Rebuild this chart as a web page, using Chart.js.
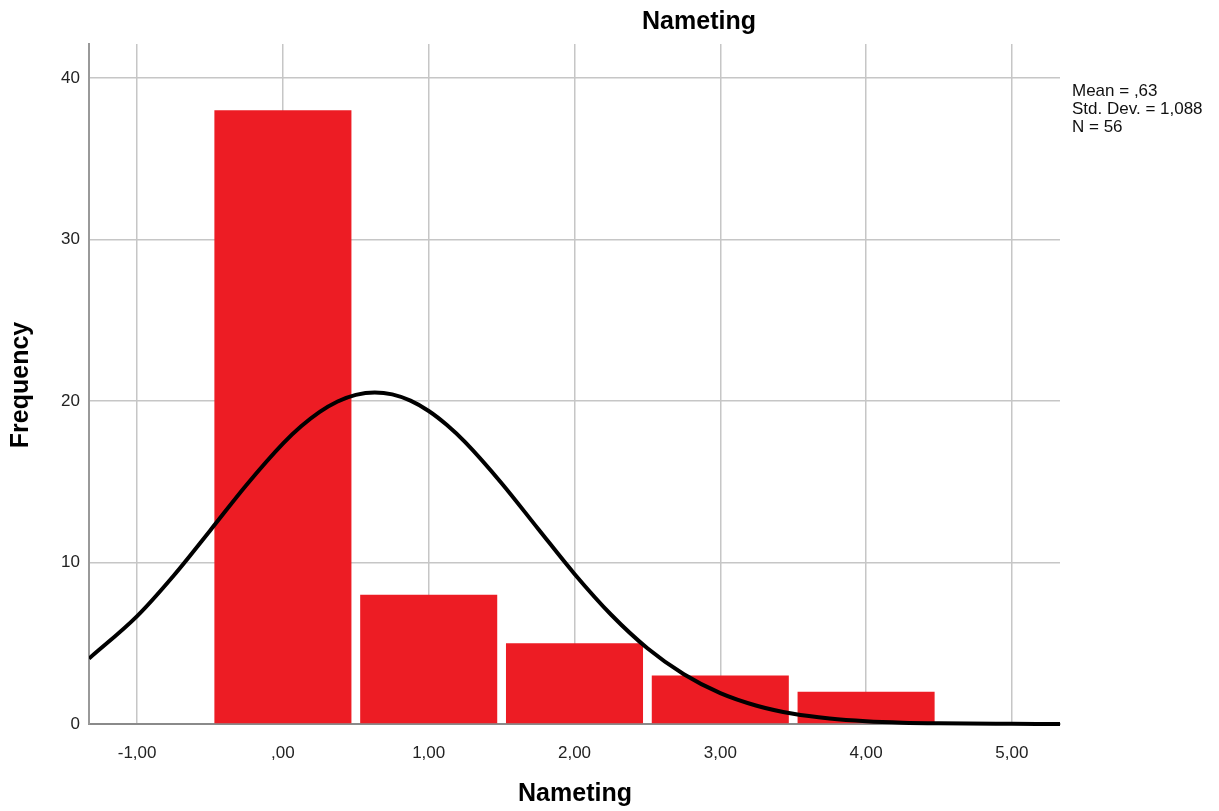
<!DOCTYPE html>
<html><head><meta charset="utf-8">
<script src="https://cdn.jsdelivr.net/npm/chart.js@4/dist/chart.umd.min.js"></script>
<style>html,body{margin:0;padding:0;background:#fff}#wrap{width:1219px;height:811px}</style>
</head><body><div id="wrap"><canvas id="c" width="1219" height="811"></canvas></div>
<script>
const binCenters = [0, 1, 2, 3, 4];
const frequencies = [38, 8, 5, 3, 2];
const curveX = [-1.33, -1, -0.75, -0.5, -0.25, 0, 0.125, 0.25, 0.375, 0.5, 0.63, 0.75, 0.875, 1, 1.125, 1.25, 1.5, 1.75, 2, 2.25, 2.5, 2.75, 3, 3.25, 3.5, 3.75, 4, 4.25, 4.5, 5, 5.33];
const curveY = [4.05, 6.68, 9.18, 11.97, 14.80, 17.36, 18.43, 19.31, 19.97, 20.38, 20.53, 20.41, 20.02, 19.38, 18.51, 17.45, 14.91, 12.09, 9.29, 6.78, 4.69, 3.08, 1.91, 1.13, 0.63, 0.34, 0.17, 0.08, 0.04, 0.01, 0.0];
const xTicks = [-1, 0, 1, 2, 3, 4, 5];
const yTicks = [0, 10, 20, 30, 40];
const chartTitle = 'Nameting';
const xTitle = 'Nameting';
const yTitle = 'Frequency';
const statsLines = ['Mean = ,63', 'Std. Dev. = 1,088', 'N = 56'];

const FONT = "'Liberation Sans', Arial, sans-serif";

const textPlugin = {
  id: 'texts',
  afterDraw(chart) {
    const ctx = chart.ctx;
    ctx.save();
    ctx.fillStyle = '#000';
    ctx.textAlign = 'center';
    ctx.textBaseline = 'middle';
    ctx.font = 'bold 25px ' + FONT;
    ctx.fillText(chartTitle, 699, 22);
    ctx.fillText(xTitle, 575, 794);
    ctx.save();
    ctx.translate(21, 385);
    ctx.rotate(-Math.PI / 2);
    ctx.fillText(yTitle, 0, 0);
    ctx.restore();
    ctx.font = '17px ' + FONT;
    ctx.textAlign = 'left';
    ctx.fillStyle = '#111';
    statsLines.forEach((t, i) => ctx.fillText(t, 1072, 91 + i * 18));
    ctx.restore();
  }
};

new Chart(document.getElementById('c'), {
  type: 'bar',
  data: {
    datasets: [
      {
        type: 'line',
        data: curveX.map((x, i) => ({ x: x, y: curveY[i] })),
        borderColor: '#000',
        borderWidth: 4,
        pointRadius: 0,
        cubicInterpolationMode: 'monotone',
        fill: false,
        order: 0,
        clip: { left: 0, right: 0, top: 0, bottom: 5 }
      },
      {
        type: 'bar',
        data: binCenters.map((x, i) => ({ x: x, y: frequencies[i] })),
        backgroundColor: '#ed1c24',
        borderWidth: 0,
        barPercentage: 0.94,
        categoryPercentage: 1,
        order: 1
      }
    ]
  },
  options: {
    responsive: false,
    animation: false,
    devicePixelRatio: 1,
    layout: { padding: { left: 0, top: 44, right: 159, bottom: 0 } },
    plugins: { legend: { display: false }, tooltip: { enabled: false }, title: { display: false } },
    scales: {
      x: {
        type: 'linear',
        min: -1.33,
        max: 5.33,
        offset: false,
        afterFit(s) { s.height = 87; },
        afterBuildTicks(s) { s.ticks = xTicks.map(v => ({ value: v })); },
        grid: { color: '#c6c6c6', lineWidth: 1.5, drawTicks: false, offset: false },
        border: { color: '#8a8a8a', width: 2 },
        ticks: {
          padding: 19,
          color: '#222',
          font: { family: FONT, size: 17 },
          maxRotation: 0,
          autoSkip: false,
          callback: v => v === 0 ? ',00' : v.toFixed(2).replace('.', ',')
        }
      },
      y: {
        type: 'linear',
        min: 0,
        max: 42.1,
        afterFit(s) { s.width = 89; },
        afterBuildTicks(s) { s.ticks = yTicks.map(v => ({ value: v })); },
        grid: { color: '#c6c6c6', lineWidth: 1.5, drawTicks: false },
        border: { color: '#999', width: 2 },
        ticks: {
          padding: 9,
          color: '#222',
          font: { family: FONT, size: 17 },
          callback: v => String(v)
        }
      }
    }
  },
  plugins: [textPlugin]
});
</script>
</body></html>
